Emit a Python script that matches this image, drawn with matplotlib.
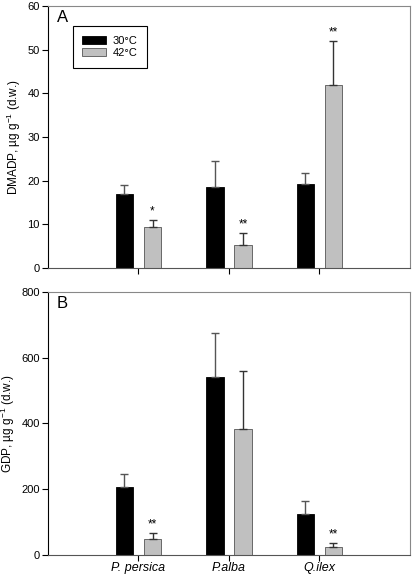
import numpy as np
import matplotlib
matplotlib.use('Agg')
import matplotlib.pyplot as plt

species = ['P. persica', 'P.alba', 'Q.ilex']
temps = ['30°C', '42°C']

# panel A: DMADP
dmadp_30 = [17.0, 18.6, 19.2]
dmadp_30_err = [1.9, 5.8, 2.5]
dmadp_42 = [9.3, 5.3, 42.0]
dmadp_42_err = [1.7, 2.7, 10.0]
dmadp_sig = ['*', '**', '**']

# panel B: GDP
gdp_30 = [208, 541, 125]
gdp_30_err = [37, 135, 38]
gdp_42 = [48, 384, 25]
gdp_42_err = [18, 176, 10]
gdp_sig = ['**', '', '**']

plt.rcParams['font.family'] = ['Liberation Sans', 'DejaVu Sans']
plt.rcParams['mathtext.default'] = 'regular'

fig = plt.figure(figsize=(4.15, 5.76), dpi=100)
axA = fig.add_axes([0.1157, 0.5347, 0.872, 0.4549])
axB = fig.add_axes([0.1157, 0.0365, 0.872, 0.4566])

x = np.arange(1, 4)
off = 0.155
w = 0.19


def panel(ax, v30, e30, v42, e42, sig, ymax, step, letter, ylabel):
    ax.bar(x - off, v30, w, color='black', edgecolor='black', linewidth=0.6,
           yerr=[np.zeros(3), e30], error_kw=dict(ecolor='#555555', elinewidth=1, capsize=3, capthick=1),
           label=temps[0], zorder=2)
    ax.bar(x + off, v42, w, color='#c0c0c0', edgecolor='#555555', linewidth=0.6,
           yerr=[np.zeros(3), e42], error_kw=dict(ecolor='#333333', elinewidth=1, capsize=3, capthick=1),
           label=temps[1], zorder=2)
    for xi, v, e, s in zip(x + off, v42, e42, sig):
        if s:
            ax.annotate(s, (xi, v + e), xytext=(0, 2), textcoords='offset points',
                        ha='center', va='bottom', fontsize=8.5)
    ax.set_xlim(0, 4)
    ax.set_ylim(0, ymax)
    ax.set_yticks(np.arange(0, ymax + 1, step))
    ax.set_xticks(x)
    ax.tick_params(axis='both', direction='out', length=4, width=0.8, labelsize=8)
    ax.tick_params(axis='y', pad=2)
    ax.tick_params(axis='x', pad=1)
    for sp in ['top', 'right']:
        ax.spines[sp].set_color('#888888')
    ax.spines['left'].set_color('black')
    ax.spines['bottom'].set_color('#555555')
    ax.set_ylabel(ylabel, fontsize=8.5, labelpad=3)
    ax.text(0.025, 0.985, letter, transform=ax.transAxes, fontsize=12, ha='left', va='top')


panel(axA, dmadp_30, dmadp_30_err, dmadp_42, dmadp_42_err, dmadp_sig, 60, 10, 'A',
      'DMADP, µg g$^{-1}$ (d.w.)')
panel(axB, gdp_30, gdp_30_err, gdp_42, gdp_42_err, gdp_sig, 800, 200, 'B',
      'GDP, µg g$^{-1}$ (d.w.)')

axA.set_xticklabels([])
axB.set_xticklabels(species, fontstyle='italic', fontsize=9)

leg = axA.legend(loc='upper left', bbox_to_anchor=(0.069, 0.922), fontsize=8,
                 frameon=True, fancybox=False, edgecolor='black', framealpha=1,
                 handlelength=2.1, handleheight=0.7, borderpad=0.85, labelspacing=0.2,
                 handletextpad=0.6, borderaxespad=0)
leg.get_frame().set_linewidth(0.8)

fig.savefig('out.png', dpi=100)
